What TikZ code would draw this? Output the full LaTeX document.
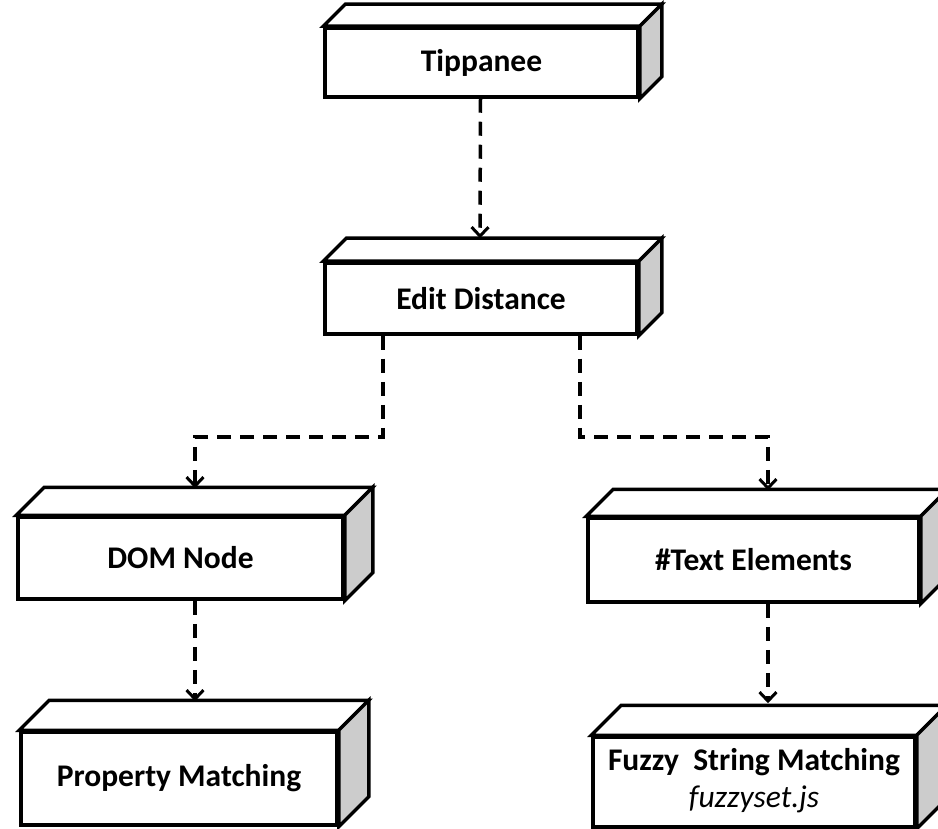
\documentclass[tikz,border=0pt]{standalone}
\usepackage{fontspec}
\setmainfont{Carlito}
\usetikzlibrary{arrows.meta}
\definecolor{sidegray}{RGB}{204,204,204}
\begin{document}
\begin{tikzpicture}[x=1pt,y=-1pt,
  boxline/.style={line width=3.5pt, line join=miter},
  front/.style={boxline, draw, fill=white, rectangle, inner sep=0pt,
    font=\fontsize{31.5}{33}\selectfont\bfseries, align=center},
  conn/.style={line width=3.5pt, dash pattern=on 14pt off 9pt,
    -{Straight Barb[length=9pt,width=17pt,line width=3pt]}}]
\useasboundingbox (0,0) rectangle (938,829);
\fill[white] (0,0) rectangle (938,829);

\node[front, minimum width=313pt, minimum height=69pt] (tip) at (481.5,62.5) {\raisebox{-2pt}{Tippanee}};
\node[front, minimum width=312pt, minimum height=71pt] (ed) at (481,298.5) {\raisebox{-2pt}{Edit Distance}};
\node[front, minimum width=325pt, minimum height=82pt] (dom) at (180.5,558) {DOM Node};
\node[front, minimum width=331pt, minimum height=84pt] (txt) at (753.5,560) {\#Text Elements};
\node[front, minimum width=316pt, minimum height=93pt] (prop) at (179,778.5) {Property Matching};
\node[front, minimum width=322pt, minimum height=90pt] (fuz) at (754,782)
  {\raisebox{9pt}{\begin{tabular}{@{}c@{}}Fuzzy\ \ String Matching\\[4pt]{\mdseries\itshape fuzzyset.js}\end{tabular}}};

\foreach \n/\d in {tip/22, ed/23, dom/28, txt/27, prop/30, fuz/30} {
  \draw[boxline, fill=white] (\n.north west) -- ++(\d,-\d)
     -- ([shift={(\d,-\d)}]\n.north east) -- (\n.north east) -- cycle;
  \draw[boxline, fill=sidegray] (\n.north east) -- ([shift={(\d,-\d)}]\n.north east)
     -- ([shift={(\d,-\d)}]\n.south east) -- (\n.south east) -- cycle;
}

\coordinate (edtop) at ([xshift=-1pt,yshift=23pt]ed.north);
\coordinate (tipout) at ([xshift=-1pt]tip.south);
\coordinate (edl) at ([xshift=-98pt]ed.south);
\coordinate (edr) at ([xshift=99pt]ed.south);
\coordinate (domtop) at ([xshift=14.5pt,yshift=27pt]dom.north);
\coordinate (txttop) at ([xshift=14.5pt,yshift=26pt]txt.north);
\coordinate (domout) at ([xshift=14.5pt]dom.south);
\coordinate (proptop) at ([xshift=16pt,yshift=29pt]prop.north);
\coordinate (txtout) at ([xshift=14.5pt]txt.south);
\coordinate (fuztop) at ([xshift=14pt,yshift=32pt]fuz.north);

\draw[conn] (tipout) -- (edtop);
\draw[conn] (edl) -- ++(0,101) -| (domtop);
\draw[conn] (edr) -- ++(0,101) -| (txttop);
\draw[conn] (domout) -- (proptop);
\draw[conn] (txtout) -- (fuztop);
\end{tikzpicture}
\end{document}
